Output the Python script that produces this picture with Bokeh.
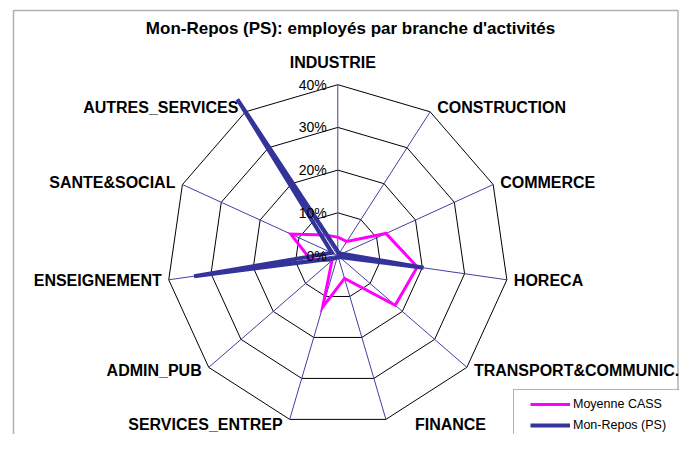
import numpy as np
from bokeh.plotting import figure
from bokeh.models import Range1d, Legend, LegendItem, BoxAnnotation, Label, ColumnDataSource
from bokeh.embed import file_html
from bokeh.resources import INLINE
from bokeh.core.properties import value

# ---------------- data ----------------
categories = ["INDUSTRIE", "CONSTRUCTION", "COMMERCE", "HORECA",
              "TRANSPORT&COMMUNIC.", "FINANCE", "SERVICES_ENTREP", "ADMIN_PUB",
              "ENSEIGNEMENT", "SANTE&SOCIAL", "AUTRES_SERVICES"]
moyenne_cass = [4.3, 3.9, 12.4, 18.8, 17.8, 5.6, 12.6, 1.8, 6.5, 12.1, 5.7]
mon_repos = [1.0, 0.5, 1.0, 20.3, 0.5, 0.5, 0.5, 1.0, 34.0, 1.5, 43.5]
ring_values = [10, 20, 30, 40]
tick_values = [0, 10, 20, 30, 40]
tick_labels = ["0%", "10%", "20%", "30%", "40%"]
series_names = ["Moyenne CASS", "Mon-Repos (PS)"]
title_text = "Mon-Repos (PS): employés par branche d'activités"

# ---------------- layout / style ----------------
W, H = 679, 434
PX = 4.27              # pixels per percent
CX, CY = 337.3, 255.0  # radar centre in canvas pixels (from top-left)
FONT = "Liberation Sans"
MAGENTA = "#FF00FF"
NAVY = "#333399"
AXIS_BLUE = "#4040A0"

n = len(categories)
theta = np.arange(n) * 2 * np.pi / n
sin_t, cos_t = np.sin(theta), np.cos(theta)
rmax = max(ring_values)


def to_xy(vals):
    v = np.asarray(vals, dtype=float)
    x = v * sin_t
    y = v * cos_t
    return np.append(x, x[0]), np.append(y, y[0])


def px_x(px):
    return (px - CX) / PX


def px_y(py):
    return (CY - py) / PX


p = figure(width=W, height=H, output_backend="svg", toolbar_location=None,
           x_range=Range1d(px_x(0), px_x(W)), y_range=Range1d(px_y(H), px_y(0)),
           x_axis_location=None, y_axis_location=None, min_border=0,
           outline_line_color=None, background_fill_color="white",
           border_fill_color="white")
p.grid.visible = False

# outer chart frame (bottom runs past the window)
p.add_layout(BoxAnnotation(left=px_x(13), right=px_x(677.5), top=px_y(10), bottom=px_y(H + 30),
                           fill_alpha=0, line_color="black", line_width=1.5))

# rings
for r in ring_values:
    x, y = to_xy([r] * n)
    p.line(x, y, line_color="black", line_width=1)

# spokes
p.segment(x0=np.zeros(n), y0=np.zeros(n), x1=rmax * sin_t, y1=rmax * cos_t,
          line_color=AXIS_BLUE, line_width=1)

# series
xm, ym = to_xy(moyenne_cass)
r_m = p.line(xm, ym, line_color=MAGENTA, line_width=3, line_join="miter")
xb, yb = to_xy(mon_repos)
r_b = p.line(xb, yb, line_color=NAVY, line_width=4, line_join="miter")

# radial tick labels
p.text(x=np.zeros(len(tick_values)), y=tick_values, text=tick_labels,
       x_offset=-11, text_align="right", text_baseline="middle",
       text_font=value(FONT), text_font_size="14px", text_color="black")

# category labels
align = []
dx = []
dy = []
nudge_x = [-5, 0, 0, 0, 0, 22, 0, 0, 0, 0, 0]
for k in range(n):
    s, c = sin_t[k], cos_t[k]
    if s > 0.2:
        align.append("left"); dx.append(7 + nudge_x[k]); dy.append(-5 * c)
    elif s < -0.2:
        align.append("right"); dx.append(-7 + nudge_x[k]); dy.append(-5 * c)
    else:
        align.append("center"); dx.append(nudge_x[k]); dy.append(-22 if c > 0 else 22)
lab_src = ColumnDataSource(dict(x=rmax * sin_t, y=rmax * cos_t, text=categories,
                                align=align, dx=dx, dy=dy))
p.text(x="x", y="y", text="text", source=lab_src, text_align="align",
       x_offset="dx", y_offset="dy", text_baseline="middle",
       text_font=value(FONT), text_font_style="bold", text_font_size="16px",
       text_color="black")

# title
p.add_layout(Label(x=px_x(350), y=px_y(28), text=title_text, text_align="center",
                   text_baseline="middle", text_font=FONT, text_font_style="bold",
                   text_font_size="17px", text_color="black"))

# legend box and legend
p.add_layout(BoxAnnotation(left=px_x(513), right=px_x(W + 30), top=px_y(389), bottom=px_y(H + 30),
                           fill_color="white", fill_alpha=1, line_color="black", line_width=1))
legend = Legend(items=[LegendItem(label=series_names[0], renderers=[r_m]),
                       LegendItem(label=series_names[1], renderers=[r_b])],
                location=(530, 1), glyph_width=40, glyph_height=16, label_height=16,
                padding=3, spacing=5, label_standoff=3, border_line_color=None,
                background_fill_alpha=0, label_text_font=FONT,
                label_text_font_size="12.5px", label_text_color="black")
p.add_layout(legend)

open("out.html", "w").write(file_html(p, INLINE))
